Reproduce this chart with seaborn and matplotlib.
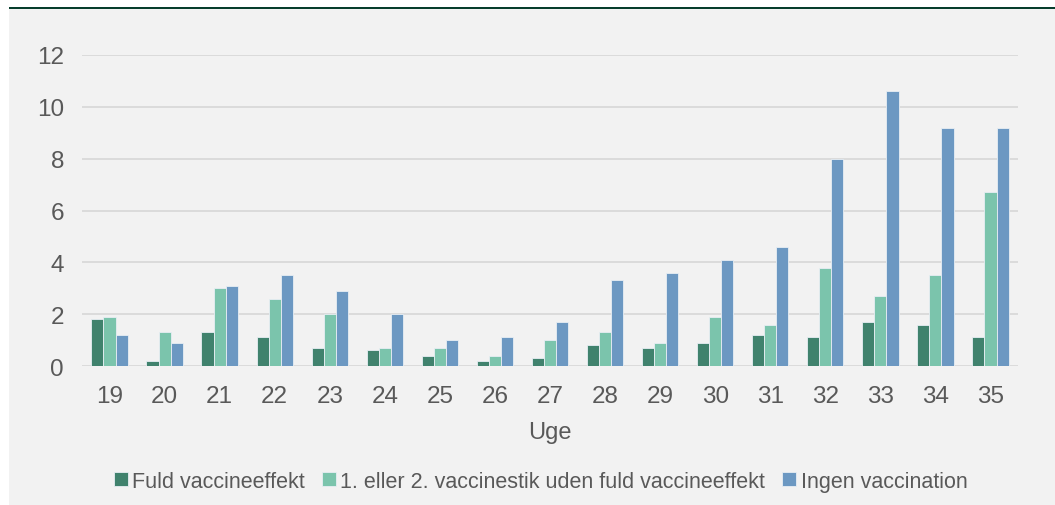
import matplotlib
matplotlib.use("Agg")
import matplotlib.pyplot as plt
import seaborn as sns
import pandas as pd
from matplotlib.patches import Rectangle

weeks = ["19", "20", "21", "22", "23", "24", "25", "26", "27", "28", "29", "30", "31", "32", "33", "34", "35"]
fuld = [1.8, 0.2, 1.3, 1.1, 0.7, 0.6, 0.4, 0.2, 0.3, 0.8, 0.7, 0.9, 1.2, 1.1, 1.7, 1.6, 1.1]
delvis = [1.9, 1.3, 3.0, 2.6, 2.0, 0.7, 0.7, 0.4, 1.0, 1.3, 0.9, 1.9, 1.6, 3.8, 2.7, 3.5, 6.7]
ingen = [1.2, 0.9, 3.1, 3.5, 2.9, 2.0, 1.0, 1.1, 1.7, 3.3, 3.6, 4.1, 4.6, 8.0, 10.6, 9.2, 9.2]
series = ["Fuld vaccineeffekt", "1. eller 2. vaccinestik uden fuld vaccineeffekt", "Ingen vaccination"]
colors = ["#40826d", "#7bc4ac", "#6c98c2"]
yticks = [0, 2, 4, 6, 8, 10, 12]

df = pd.DataFrame({
    "Uge": weeks * 3,
    "value": fuld + delvis + ingen,
    "serie": [series[0]] * len(weeks) + [series[1]] * len(weeks) + [series[2]] * len(weeks),
})

sns.set_theme(style="white")
plt.rcParams["font.family"] = ["Liberation Sans", "DejaVu Sans"]

fig = plt.figure(figsize=(10.55, 5.06), dpi=100)
fig.patch.set_facecolor("white")
W, H = 1055, 506
fig.patches.append(Rectangle((9 / W, 0), 1 - 9 / W, 1 - 8 / H, transform=fig.transFigure,
                             facecolor="#f2f2f2", edgecolor="none", zorder=-2))
fig.patches.append(Rectangle((9 / W, 1 - 10 / H), 1 - 9 / W, 2.5 / H, transform=fig.transFigure,
                             facecolor="#063d2c", edgecolor="none", zorder=-1))

ax = fig.add_axes([82 / W, 1 - 367 / H, (1018 - 82) / W, (367 - 56) / H])
ax.set_zorder(5)
ax.set_facecolor("none")
sns.barplot(data=df, x="Uge", y="value", hue="serie", palette=colors, ax=ax, saturation=1,
            width=0.66, edgecolor="#e8eef4", linewidth=0.6, zorder=3)

ax.set_ylim(0, 12)
ax.set_yticks(yticks)
ax.set_yticklabels([str(t) for t in yticks])
ax.grid(axis="y", color="#d9d9d9", linewidth=1.3, zorder=0)
ax.set_axisbelow(True)
for s in ["top", "right", "left", "bottom"]:
    ax.spines[s].set_visible(False)
ax.tick_params(axis="both", length=0, labelsize=17.5, labelcolor="#595959")
ax.tick_params(axis="x", pad=13.5)
ax.tick_params(axis="y", pad=13)
ax.set_xlabel("Uge", fontsize=17, color="#595959", labelpad=10)
ax.set_ylabel("")

ax.legend(loc="center", bbox_to_anchor=(0.49, -0.37), ncol=3, frameon=False,
          fontsize=15.5, labelcolor="#595959", handlelength=0.65, handleheight=0.65,
          handletextpad=0.2, columnspacing=0.8)

fig.savefig("out.png", dpi=100)
